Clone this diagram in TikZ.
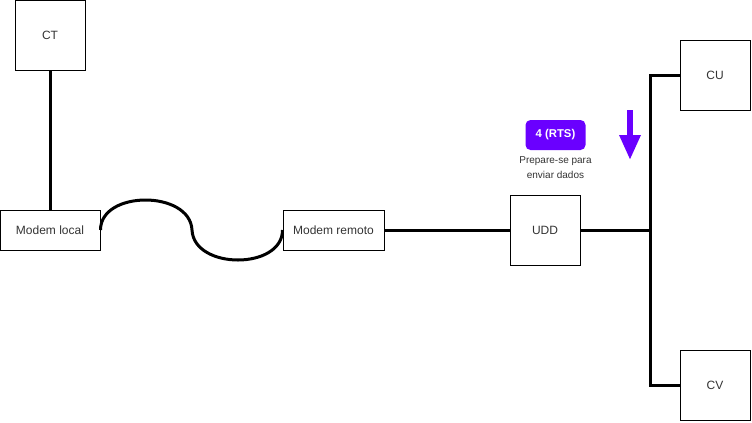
\documentclass[tikz,border=0pt]{standalone}
\usepackage{fontspec}
\setmainfont{Liberation Sans}
\usetikzlibrary{arrows.meta}
\definecolor{rtspurple}{HTML}{6A00FF}
\definecolor{labelgray}{HTML}{333333}

\begin{document}
\begin{tikzpicture}[x=0.75pt,y=-0.75pt,font=\fontsize{9}{11}\selectfont]
% Two styles: boxes and thick links
\tikzstyle{box}=[draw,line width=0.75pt,text=labelgray,inner sep=0];
\tikzstyle{link}=[draw,line width=2.25pt];
\useasboundingbox (0,0) rectangle (752,422);
% The boxes
\node(ct)[box,minimum width=52.5pt,minimum height=52.5pt]at(50,35){CT};
\node(ml)[box,minimum width=75pt,minimum height=30pt]at(50,230){Modem local};
\node(mr)[box,minimum width=75.75pt,minimum height=30pt]at(333.5,230){Modem remoto};
\node(udd)[box,minimum width=52.5pt,minimum height=52.5pt]at(545,230){UDD};
\node(cu)[box,minimum width=52.5pt,minimum height=52.5pt]at(715,75){CU};
\node(cv)[box,minimum width=52.5pt,minimum height=52.5pt]at(715,385){CV};
% the links
\coordinate(wave)at(192,230);
\coordinate(bus)at(651,230);
\draw[link](ct)--(ml);
\draw[link](ml.east)..controls +(0,-40) and +(-2,-40)..(wave)
  ..controls +(2,40) and +(0,40)..(mr.west);
\draw[link](mr)--(udd);
\draw[link](udd.east)--(bus);
\draw[link](cu.west)--++(-29,0)|-(cv.west);
% the message
\node(rts)[fill=rtspurple,rounded corners=3.75pt,minimum width=45pt,minimum height=22.5pt,
  text=white,font=\fontsize{8.5}{10}\selectfont\bfseries]at(555.5,135){4 (RTS)};
\node(msg)[below=1pt,text=labelgray,align=center,font=\fontsize{7.5}{11.25}\selectfont]
  at(rts.south){Prepare-se para\\enviar dados};
\coordinate(from)at(630,110);
\coordinate(to)at(630,160);
\draw[rtspurple,line width=4.5pt,-{Triangle[length=18.75pt,width=15pt]}](from)--(to);
\end{tikzpicture}
\end{document}
